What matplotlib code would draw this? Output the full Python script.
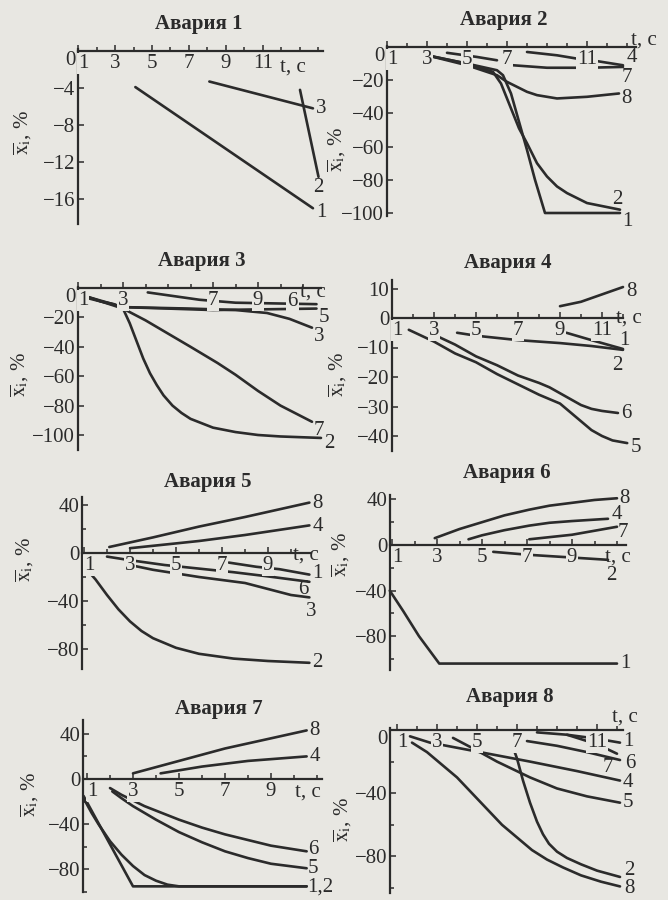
import matplotlib.pyplot as plt
from matplotlib.ticker import FixedLocator, MultipleLocator

plt.rcParams['font.family'] = ['Liberation Serif', 'DejaVu Serif']
plt.rcParams['mathtext.fontset'] = 'stix'

BG = '#e8e7e2'
INK = '#2b2b2b'
W, H = 668, 900

# ---------------- data (t, s ; x_i, %) ----------------
# Авария 1
a1_curves = {
    '1': ([4.1, 13.7], [-3.9, -17.0]),
    '2': ([13.0, 14.0], [-4.2, -13.6]),
    '3': ([8.1, 13.7], [-3.3, -6.2]),
}
a1_xticks = [1, 3, 5, 7, 9, 11]
a1_yticks = [0, -4, -8, -12, -16]

# Авария 2
a2_curves = {
    '1': ([3, 5, 6.5, 6.8, 7.2, 7.6, 8.0, 8.4, 8.9, 12.65],
          [-5, -10, -14, -17, -28, -45, -62, -80, -100, -100]),
    '2': ([3, 5, 6.3, 6.7, 7.0, 7.3, 7.6, 8, 8.5, 9, 9.5, 10, 11, 12.65],
          [-5, -10, -15, -22, -31, -40, -49, -58, -70, -78, -84, -88, -94, -98]),
    '8': ([3, 5, 6.5, 7.0, 7.5, 8.0, 8.5, 9.5, 11, 12.6],
          [-5, -11, -17, -21, -24, -27, -29, -31, -30, -28]),
    '7': ([7.3, 9, 11, 12.8], [-11, -12.5, -12.5, -12]),
    '4': ([8, 9.5, 10.5, 11.5, 12.8], [-3, -5, -7, -8.5, -11]),
    '': ([4, 5.5, 6.5], [-3.5, -6, -8]),
}
a2_xticks = [1, 3, 5, 7, 11]
a2_yticks = [0, -20, -40, -60, -80, -100]

# Авария 3
a3_curves = {
    '2': ([1.2, 2, 2.6, 3.0, 3.3, 3.6, 3.9, 4.2, 4.5, 4.8, 5.2, 5.6, 6, 6.5, 7, 8, 9, 10, 11.8],
          [-5, -9, -11, -14, -24, -36, -48, -58, -66, -73, -80, -85, -89, -92, -95, -98, -100, -101, -102]),
    '7': ([1.2, 3, 4, 5, 6, 7.2, 8, 9, 10, 11.4], [-5, -14, -22, -31, -40, -51, -59, -70, -80, -91]),
    '3': ([1.2, 3, 6, 8, 9.4, 10.4, 11.4], [-5, -13, -14, -15, -17, -21, -27]),
    '5': ([1.2, 3, 7, 11.6], [-6, -13, -15, -14]),
    '6': ([4.1, 6.4, 8, 11.6], [-3, -8, -10, -11]),
}
a3_xticks = [1, 3, 7, 9]
a3_yticks = [0, -20, -40, -60, -80, -100]

# Авария 4
a4_curves = {
    '8': ([9, 10, 11, 12], [4, 5.5, 8, 10.5]),
    '5': ([1.8, 3, 4, 5, 6, 7, 8, 9, 9.5, 10, 10.5, 11, 11.5, 12.2],
          [-4, -8, -12, -15, -19, -22.5, -26, -29, -32, -35, -38, -40, -41.5, -42.4]),
    '6': ([3.1, 4, 5, 6, 7, 8, 8.5, 9, 9.5, 10, 10.5, 11, 11.76],
          [-6, -9, -13, -16, -19.5, -22, -23.5, -25.5, -27.5, -29.5, -30.8, -31.5, -32.2]),
    '2': ([4.1, 5, 7, 9, 10.5, 12], [-5, -6, -7.5, -8.5, -9.5, -10.8]),
    '1': ([9.3, 10.5, 12], [-5, -7.5, -10.5]),
}
a4_xticks = [1, 3, 5, 7, 9, 11]
a4_yticks = [10, 0, -10, -20, -30, -40]

# Авария 5
a5_curves = {
    '8': ([2.1, 4, 6, 8, 10.8], [5, 13, 22, 30, 42]),
    '4': ([3, 6, 8, 10.8], [4, 10, 15, 23]),
    '1': ([7.3, 8.5, 9.5, 10.8], [-8, -11.5, -13.5, -18]),
    '6': ([2.0, 3, 4.5, 6, 7.5, 9, 10.8], [-3, -6, -10, -13, -16, -19.5, -24]),
    '3': ([3, 4, 5, 6, 7, 8, 9, 10, 10.8], [-10, -14, -17, -20, -22.5, -25, -30, -35, -37]),
    '2': ([0.95, 1.5, 2.0, 2.5, 3.0, 3.5, 4.0, 5.0, 6.0, 7.5, 9.0, 10.8],
          [-10, -22, -35, -47, -57, -65, -71, -79, -84, -88, -90, -91.5]),
}
a5_xticks = [1, 3, 5, 7, 9]
a5_yticks = [40, 0, -40, -80]

# Авария 6
a6_curves = {
    '8': ([2.9, 4, 5, 6, 7.1, 8, 9, 10, 11], [6, 14, 20, 26, 31, 34.5, 37, 39.5, 41]),
    '4': ([4.4, 5, 6, 7.1, 8, 9, 10.6], [5, 8.5, 13, 17, 19.5, 21, 23]),
    '7': ([7.1, 9, 11], [5, 9, 16]),
    '2': ([5.5, 7, 9, 10.6], [-6, -8.5, -11, -13]),
    '1': ([0.9, 1.5, 2.2, 3.1, 11], [-40, -58, -80, -104, -104]),
}
a6_xticks = [1, 3, 5, 7, 9]
a6_yticks = [40, 0, -40, -80]

# Авария 7
a7_curves = {
    '8': ([3, 5, 7, 9, 10.55], [5, 16, 27, 36, 43]),
    '4': ([4.2, 6, 8, 10.55], [5, 11, 16, 20]),
    '6': ([2.0, 2.5, 3, 3.5, 4, 5, 6, 7, 8, 9, 10.55],
          [-8, -14, -19, -24, -28, -36, -43, -49, -54, -59, -64]),
    '5': ([2.1, 2.5, 3, 3.5, 4, 5, 6, 7, 8, 9, 10.55],
          [-11, -17, -24, -30, -36, -47, -56, -64, -70, -75, -79]),
    '1,2': ([0.85, 3.0, 10.55], [-15, -95, -95]),
    '': ([0.85, 1.2, 1.5, 2, 2.5, 3, 3.5, 4, 4.5, 5, 10.55],
         [-17, -30, -40, -55, -67, -77, -85, -90, -93.5, -95, -95]),
}
a7_xticks = [1, 3, 5, 7, 9]
a7_yticks = [40, 0, -40, -80]

# Авария 8
a8_curves = {
    '8': ([1.75, 2.5, 3.25, 4, 4.75, 5.5, 6.25, 7, 7.75, 8.5, 9.3, 10.2, 11.2, 12.15],
          [-8, -14, -22, -30, -40, -50, -60, -68, -76, -82, -87, -92, -96, -99]),
    '2': ([6.8, 7.0, 7.3, 7.65, 8.0, 8.3, 8.6, 9.0, 9.5, 10.2, 11, 12.15],
          [-11, -18, -32, -46, -58, -66, -72, -77, -81, -85, -89, -93]),
    '5': ([3.8, 5, 6, 7.65, 9, 10.5, 12.15], [-5, -13, -20, -30, -37, -42, -46]),
    '4': ([1.65, 2.65, 5.15, 7.65, 10, 12.15], [-4, -8, -14, -20, -26, -32]),
    '6': ([7.5, 9, 10.5, 12.15], [-7, -10, -14, -19]),
    '7': ([9.5, 11, 12.0], [-3, -9, -15]),
    '1': ([8, 9.5, 11, 12.15], [-1.5, -3, -5.5, -8]),
}
a8_xticks = [1, 3, 5, 7, 11]
a8_yticks = [0, -40, -80]

# ---------------- layout (pixels of the 668x900 picture) ----------------
panels = [
    dict(title='Авария 1', curves=a1_curves, xt=a1_xticks, yt=a1_yticks, ymin=None,
         map=(59.5, 18.5, 51, 9.25), xlim=(1.0, 14.25), ylim=(-18.7, 0.2),
         tpos=(199, 24), ypos=(23, 133), tc=(280, 67), zero_down=True,
         lab={'1': (3, -4, 'left'), '2': (0, -11, 'center'), '3': (3, 0, 'left')}),
    dict(title='Авария 2', curves=a2_curves, xt=a2_xticks, yt=a2_yticks, ymin=None,
         map=(367, 20, 47, 1.66), xlim=(1.0, 13.45), ylim=(-102, 0.5),
         tpos=(504, 20), ypos=(337, 150), tc=(631, 40), zero_down=True,
         lab={'1': (2, -9, 'left'), '2': (-3, 10, 'center'), '8': (2, -5, 'left'),
              '7': (4, -11, 'center'), '4': (4, 8, 'left')}),
    dict(title='Авария 3', curves=a3_curves, xt=a3_xticks, yt=a3_yticks, ymin=None,
         map=(55.5, 22.5, 288, 1.47), xlim=(1.0, 11.8), ylim=(-110, 0.5),
         tpos=(202, 261), ypos=(20, 375), tc=(300, 292), zero_down=True,
         lab={'2': (3, -6, 'left'), '7': (2, -9, 'left'), '3': (2, -9, 'left'),
              '5': (2, -9, 'left'), '6': (-24, 3, 'center')}),
    dict(title='Авария 4', curves=a4_curves, xt=a4_xticks, yt=a4_yticks, ymin=None,
         map=(371, 21, 318, 2.95), xlim=(1.0, 12.0), ylim=(-45, 13),
         tpos=(508, 263), ypos=(338, 375), tc=(616, 318), zero_down=False,
         lab={'8': (3, -4, 'left'), '1': (1, 8, 'center'), '2': (-6, -16, 'center'),
              '6': (3, -1, 'left'), '5': (3, -4, 'left')}),
    dict(title='Авария 5', curves=a5_curves, xt=a5_xticks, yt=a5_yticks, ymin=20,
         map=(61, 23, 553, 1.2), xlim=(0.91, 10.85), ylim=(-97, 47),
         tpos=(208, 482), ypos=(25, 560), tc=(293, 555), zero_down=False,
         lab={'8': (3, -1, 'left'), '4': (3, -1, 'left'), '1': (3, 1, 'left'),
              '6': (-6, -8, 'center'), '3': (2, -14, 'center'), '2': (3, 0, 'left')}),
    dict(title='Авария 6', curves=a6_curves, xt=a6_xticks, yt=a6_yticks, ymin=20,
         map=(369.5, 22.5, 545, 1.14), xlim=(0.91, 11.4), ylim=(-110, 44),
         tpos=(507, 473), ypos=(341, 555), tc=(605, 557), zero_down=False,
         lab={'8': (2, 0, 'left'), '4': (4, 4, 'left'), '7': (1, -6, 'left'),
              '2': (3, -16, 'center'), '1': (3, 0, 'left')}),
    dict(title='Авария 7', curves=a7_curves, xt=a7_xticks, yt=a7_yticks, ymin=20,
         map=(64, 23, 779, 1.13), xlim=(0.83, 11.2), ylim=(-100, 52),
         tpos=(219, 709), ypos=(30, 795), tc=(295, 792), zero_down=False,
         lab={'8': (3, 0, 'left'), '4': (3, 0, 'left'), '6': (1, 2, 'left'),
              '5': (1, 0, 'left'), '1,2': (1, -1, 'left')}),
    dict(title='Авария 8', curves=a8_curves, xt=a8_xticks, yt=a8_yticks, ymin=20,
         map=(377, 20, 730, 1.58), xlim=(0.65, 12.3), ylim=(-103, 1.3),
         tpos=(510, 697), ypos=(343, 820), tc=(612, 717), zero_down=True,
         lab={'8': (4, -2, 'left'), '2': (4, 6, 'left'), '5': (3, 0, 'left'),
              '4': (3, -2, 'left'), '6': (5, -3, 'left'), '7': (-9, -14, 'center'),
              '1': (3, 1, 'left')}),
]

fig = plt.figure(figsize=(W / 100, H / 100), dpi=100, facecolor=BG)
FS = 15
box = dict(boxstyle='square,pad=0.05', fc=BG, ec='none')

for p in panels:
    a, b, c, d = p['map']
    x0, x1 = p['xlim']
    y0, y1 = p['ylim']
    left, right = a + b * x0, a + b * x1
    top, bottom = c - d * y1, c - d * y0
    ax = fig.add_axes([left / W, 1 - bottom / H, (right - left) / W, (bottom - top) / H])
    ax.set_facecolor('none')
    ax.set_xlim(x0, x1)
    ax.set_ylim(y0, y1)
    ax.set_axisbelow(False)

    for name, (t, v) in p['curves'].items():
        ax.plot(t, v, color=INK, lw=1.9, solid_capstyle='round', solid_joinstyle='round',
                clip_on=False, zorder=2)
        if name in p['lab']:
            dx, dy, ha = p['lab'][name]
            kw = dict(bbox=box) if (p['title'] == 'Авария 3' and name == '6') else {}
            ax.annotate(name, (t[-1], v[-1]), xytext=(dx, dy), textcoords='offset pixels',
                        ha=ha, va='center', fontsize=FS, color=INK,
                        annotation_clip=False, zorder=4, **kw)

    for s in ('top', 'right'):
        ax.spines[s].set_visible(False)
    ax.spines['bottom'].set_position(('data', 0))
    for s in ('bottom', 'left'):
        ax.spines[s].set_color(INK)
        ax.spines[s].set_linewidth(1.6)

    ax.xaxis.set_major_locator(FixedLocator(p['xt']))
    ax.xaxis.set_minor_locator(MultipleLocator(1))
    ax.yaxis.set_major_locator(FixedLocator(p['yt']))
    if p['ymin']:
        ax.yaxis.set_minor_locator(MultipleLocator(p['ymin']))
    ax.set_xticklabels([str(v) for v in p['xt']])
    ax.set_yticklabels([str(v).replace('-', '\u2212') for v in p['yt']])
    ax.tick_params(which='both', direction='in', color=INK, width=1.1,
                   labelsize=FS, labelcolor=INK, pad=2)
    ax.tick_params(which='major', length=4)
    ax.tick_params(which='minor', length=3)
    for lbl in ax.get_xticklabels():
        lbl.set_bbox(box)
    ax.get_xticklabels()[0].set_horizontalalignment('left')
    if p['zero_down']:
        for lbl, v in zip(ax.get_yticklabels(), p['yt']):
            if v == 0:
                lbl.set_verticalalignment('top')

    tx, ty = p['tpos']
    fig.text(tx / W, 1 - ty / H, p['title'], ha='center', va='center',
             fontsize=FS, fontweight='bold', color=INK)
    lx, ly = p['ypos']
    fig.text(lx / W, 1 - ly / H, r'$\overline{\mathrm{x}}_{\mathrm{i}}$, %', rotation=90,
             ha='center', va='center', fontsize=FS, color=INK)
    cx, cy = p['tc']
    fig.text(cx / W, 1 - cy / H, 't, c', ha='left', va='center', fontsize=FS, color=INK)

fig.savefig('out.png', dpi=100, facecolor=BG)
